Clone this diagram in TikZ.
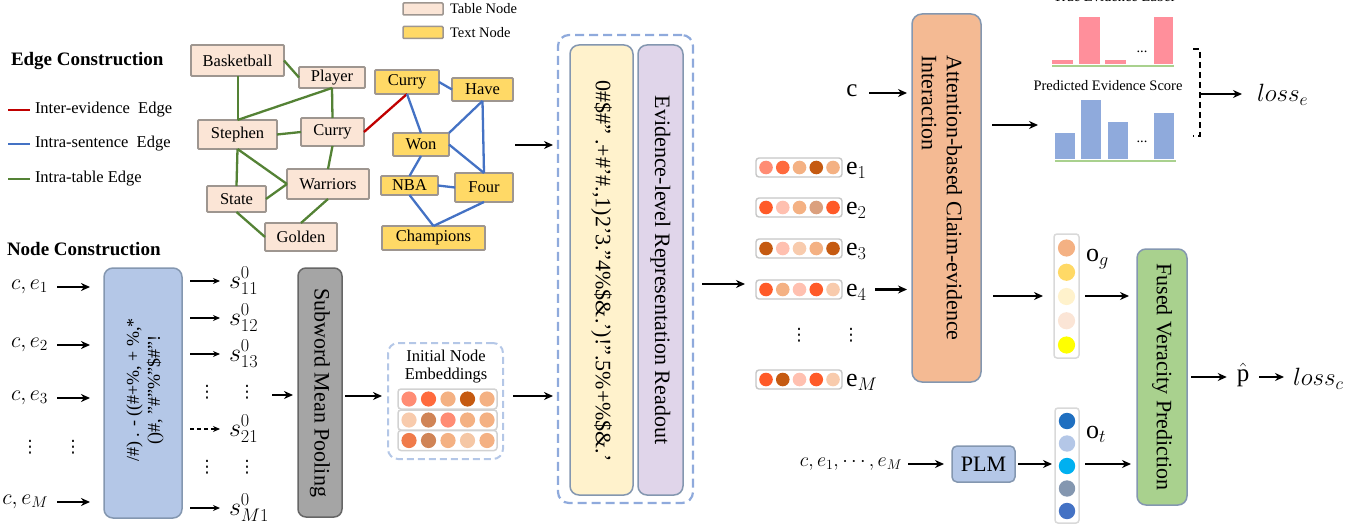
\RequirePackage{fix-cm}
\documentclass[tikz,border=0pt]{standalone}
\usepackage{fontspec}
\setmainfont{Liberation Serif}
\newfontfamily\dvsfont{DejaVu Sans}
\usetikzlibrary{arrows.meta}
\definecolor{tabfill}{HTML}{FBE5D6}
\definecolor{txtfill}{HTML}{FFD966}
\definecolor{nodeborder}{HTML}{9E9690}
\definecolor{redE}{HTML}{C00000}
\definecolor{blueE}{HTML}{4472C4}
\definecolor{greenE}{HTML}{548235}
\definecolor{boxborder}{HTML}{8497B0}
\definecolor{lblue}{HTML}{B4C7E7}
\definecolor{dblue}{HTML}{8FAADC}
\definecolor{lyellow}{HTML}{FFF2CC}
\definecolor{lpurple}{HTML}{E0D5EA}
\definecolor{peach}{HTML}{F4BA93}
\definecolor{lgreen}{HTML}{A9D18E}
\definecolor{pbar}{HTML}{FF8F9B}
\definecolor{gbox}{HTML}{A5A5A5}
\definecolor{cSal}{HTML}{FF8C74}
\definecolor{cOr}{HTML}{FF6A3D}
\definecolor{cTan}{HTML}{F4B183}
\definecolor{cBr}{HTML}{C55A11}
\definecolor{cLp}{HTML}{F8CBAD}
\definecolor{cMb}{HTML}{D08456}
\definecolor{cO2}{HTML}{F07B4A}
\definecolor{cPk}{HTML}{FFC0B0}
\definecolor{cDt}{HTML}{DBA07E}
\definecolor{cRd}{HTML}{FF5A28}
\definecolor{cLt}{HTML}{F5C7A5}
\definecolor{cGold}{HTML}{FFD966}
\definecolor{cCream}{HTML}{FFF2CC}
\definecolor{cPeach}{HTML}{FBE5D6}
\definecolor{cYel}{HTML}{FFFF00}
\definecolor{cB1}{HTML}{1F6FC0}
\definecolor{cB2}{HTML}{B4C7E7}
\definecolor{cB3}{HTML}{00B0F0}
\definecolor{cB4}{HTML}{8497B0}
\definecolor{cB5}{HTML}{4472C4}
\newcommand{\FBig}{\fontsize{22}{25}\selectfont}
\newcommand{\FNode}{\fontsize{16.5}{18}\selectfont}
\newcommand{\FHead}{\fontsize{19}{21}\selectfont\bfseries}
\newcommand{\FSmall}{\fontsize{14.5}{16}\selectfont}
\newcommand{\FMathE}{\fontsize{26}{28}\selectfont}
\newcommand{\FMathC}{\fontsize{22}{24}\selectfont}
\newcommand{\FMathS}{\fontsize{20}{22}\selectfont}
\newcommand{\FMathL}{\fontsize{25}{27}\selectfont}
\newcommand{\FGarb}{\fontsize{18}{21}\selectfont}
\newcommand{\vdts}{{\dvsfont\fontsize{17}{19}\selectfont ⋮}}
\begin{document}
\begin{tikzpicture}[x=1pt,y=-1pt,
  every node/.style={inner sep=0pt, outer sep=0pt},
  tabn/.style={draw=nodeborder, line width=1.8pt, fill=tabfill, font=\FNode, rounded corners=1pt},
  txtn/.style={draw=nodeborder, line width=1.8pt, fill=txtfill, font=\FNode, rounded corners=1pt},
  gedge/.style={draw=greenE, line width=2.3pt},
  bedge/.style={draw=blueE, line width=2.3pt},
  redge/.style={draw=redE, line width=2.3pt},
  arr/.style={-{Stealth[length=9pt,width=8pt]}, line width=2.2pt},
  thinarr/.style={-{Stealth[length=7pt,width=6pt]}, line width=1.4pt},
  bigbox/.style={draw=boxborder, line width=1.5pt, rounded corners=9pt},
  vecbar/.style={draw=gray!45, line width=1.4pt, rounded corners=3pt, fill=white},
  vd/.style={inner sep=0pt},
]
\useasboundingbox (0,0) rectangle (1361,527);

% ---------- top legend ----------
\node[tabn, line width=1.5pt, minimum width=40pt, minimum height=12pt] (legtab) at (423,9) {};
\node[anchor=west, font=\FSmall] (legtabt) at (450,9) {Table Node};
\node[txtn, line width=1.5pt, minimum width=40pt, minimum height=12pt] (legtxt) at (423,32.5) {};
\node[anchor=west, font=\FSmall] (legtxtt) at (450,32.5) {Text Node};

% ---------- edge legend ----------
\node[anchor=west, font=\FHead] (ec) at (11,61) {Edge Construction};
\node[anchor=west, font=\FNode] (lint) at (35,110) {Inter-evidence\ \ Edge};
\node[anchor=west, font=\FNode] (lsen) at (35,144) {Intra-sentence\ \ Edge};
\node[anchor=west, font=\FNode] (ltab) at (35,179) {Intra-table Edge};
\draw[redge] ([xshift=-27pt]lint.west) -- ([xshift=-5pt]lint.west);
\draw[bedge] ([xshift=-27pt]lsen.west) -- ([xshift=-5pt]lsen.west);
\draw[gedge] ([xshift=-27pt]ltab.west) -- ([xshift=-5pt]ltab.west);

% ---------- graph ----------
\node[tabn, minimum width=93pt, minimum height=31pt] (bask) at (237.5,60.5) {Basketball};
\node[tabn, minimum width=66pt, minimum height=21pt] (player) at (332,77.5) {Player};
\node[tabn, minimum width=79pt, minimum height=29pt] (steph) at (237.5,134.5) {Stephen};
\node[tabn, minimum width=63pt, minimum height=28pt] (curryA) at (332.5,132) {Curry};
\node[tabn, minimum width=82pt, minimum height=30pt] (warr) at (328,184) {Warriors};
\node[tabn, minimum width=59pt, minimum height=26pt] (state) at (236.5,199) {State};
\node[tabn, minimum width=72pt, minimum height=28pt] (golden) at (301,237) {Golden};
\node[txtn, minimum width=64pt, minimum height=24pt] (curryB) at (407,82) {Curry};
\node[txtn, minimum width=61pt, minimum height=23pt] (have) at (482.5,89.5) {Have};
\node[txtn, minimum width=56pt, minimum height=23pt] (won) at (421,144.5) {Won};
\node[txtn, minimum width=57pt, minimum height=19pt] (nba) at (409.5,185.5) {NBA};
\node[txtn, minimum width=58pt, minimum height=29pt] (four) at (484,187.5) {Four};
\node[txtn, minimum width=103pt, minimum height=24pt] (champ) at (433.5,238) {Champions};

\draw[gedge] (bask.east) -- (player.west);
\draw[gedge] ([xshift=0.3pt]bask.south) -- ([xshift=0.3pt]steph.north);
\draw[gedge] (player.south) -- (steph.north);
\draw[gedge] (player.south) -- (curryA.north);
\draw[gedge] (steph.east) -- (curryA.west);
\draw[gedge] (steph.south) -- (state.north);
\draw[gedge] (steph.south) -- (warr.west);
\draw[gedge] (state.east) -- (warr.west);
\draw[gedge] (state.south) -- (golden.west);
\draw[gedge] (warr.south) -- (golden.north);
\draw[gedge] (curryA.south) -- (warr.north);
\draw[redge] (curryA.east) -- (curryB.south);
\draw[bedge] (curryB.east) -- (have.west);
\draw[bedge] (curryB.south) -- (won.north);
\draw[bedge] (have.south) -- (won.north east);
\draw[bedge] (have.south) -- (four.north);
\draw[bedge] (won.east) -- (four.north);
\draw[bedge] (won.south) -- (nba.north);
\draw[bedge] (nba.east) -- (four.west);
\draw[bedge] (nba.south) -- (champ.north);
\draw[bedge] (four.south) -- (champ.north);

% ---------- node construction ----------
\node[anchor=west, font=\FHead] (nc) at (7,249) {Node Construction};

\node[draw=boxborder, line width=1.5pt, fill=lblue, rounded corners=9pt, minimum width=78pt, minimum height=250pt] (blue) at (143,393) {};
\node[font=\FGarb, rotate=90, align=center] (bluet) at (145,390) {/\#) . - ((\#+\%, + \%,*\\()\#, "\#"\%"\$\#"!};

\node[font=\FMathC, anchor=east] (ce1) at (48,287) {$c, e_1$};
\node[font=\FMathC, anchor=east] (ce2) at (48,345) {$c, e_2$};
\node[font=\FMathC, anchor=east] (ce3) at (48,398) {$c, e_3$};
\node[vd] (cdA) at (30,447) {\vdts};
\node[vd] (cdB) at (73,447) {\vdts};
\node[font=\FMathC, anchor=east] (ceM) at (48,502) {$c, e_M$};
\foreach \n in {ce1,ce2,ce3,ceM}
  \draw[arr, shorten >=14pt] ([xshift=9pt]\n.east) -- (\n.east -| blue.west);

\node[font=\FMathE, anchor=west] (s11) at (229,281) {$s^0_{11}$};
\node[font=\FMathE, anchor=west] (s12) at (229,318) {$s^0_{12}$};
\node[font=\FMathE, anchor=west] (s13) at (229,354) {$s^0_{13}$};
\node[vd] (sdA) at (207,392) {\vdts};
\node[vd] (sdB) at (247,392) {\vdts};
\node[font=\FMathE, anchor=west] (s21) at (229,429) {$s^0_{21}$};
\node[vd] (sdC) at (207,467) {\vdts};
\node[vd] (sdD) at (247,467) {\vdts};
\node[font=\FMathE, anchor=west] (sM1) at (229,508) {$s^0_{M1}$};
\foreach \n in {s11,s12,s13,sM1}
  \draw[thinarr] ([xshift=8pt]blue.east |- \n.west) -- ([xshift=-9pt]\n.west);
\draw[thinarr, dash pattern=on 4pt off 3pt] ([xshift=8pt]blue.east |- s21.west) -- ([xshift=-9pt]s21.west);

\node[draw=gray!80!black, line width=1.5pt, fill=gbox, rounded corners=8pt, minimum width=44pt, minimum height=249pt] (sub) at (320,392.5) {};
\node[font=\FBig, rotate=-90] (subt) at (320,392.5) {Subword Mean Pooling};
\coordinate (slist) at (272,395);
\draw[arr, shorten >=5pt] (slist) -- (sub.west |- slist);

% initial node embeddings
\node[draw=lblue, line width=2pt, dash pattern=on 7pt off 4pt, rounded corners=10pt, minimum width=115pt, minimum height=116pt] (init) at (445.5,401) {};
\node[font=\FNode, align=center] (initt) at (446,367) {Initial Node\\Embeddings};
\node[draw=gray!35, line width=1.5pt, rounded corners=3pt, minimum width=99pt, minimum height=20pt] (r1) at (447.5,399) {};
\node[draw=gray!35, line width=1.5pt, rounded corners=3pt, minimum width=99pt, minimum height=20pt] (r2) at (447.5,420) {};
\node[draw=gray!35, line width=1.5pt, rounded corners=3pt, minimum width=99pt, minimum height=20pt] (r3) at (447.5,440.5) {};
\foreach \c [count=\i] in {cSal,cOr,cTan,cBr,cTan}
  \fill[\c] ({409+19.5*(\i-1)},399) circle[radius=7.6pt];
\foreach \c [count=\i] in {cLp,cMb,cSal,cTan,cTan}
  \fill[\c] ({409+19.5*(\i-1)},420) circle[radius=7.6pt];
\foreach \c [count=\i] in {cO2,cMb,cTan,cLt,cTan}
  \fill[\c] ({409+19.5*(\i-1)},440.5) circle[radius=7.6pt];
\coordinate (a1) at (0,396);
\draw[arr, shorten >=6pt] ([xshift=3pt]sub.east |- a1) -- (init.west |- a1);

% big dashed box
\node[draw=dblue, line width=2.2pt, dash pattern=on 9pt off 5pt, rounded corners=11pt, minimum width=135pt, minimum height=468pt] (big) at (625.5,269) {};
\node[bigbox, fill=lyellow, minimum width=63pt, minimum height=450pt] (ybox) at (601.5,270) {};
\node[bigbox, fill=lpurple, minimum width=45pt, minimum height=450pt] (pbox) at (660.5,270) {};
\node[font=\FBig, rotate=-90] (yboxt) at (601.5,271) {0\#\$\#" .+\#'\#.,1)2'3."4\%\$\&.')!".5\%+\%\$\&.'};
\node[font=\FBig, rotate=-90] (pboxt) at (660.5,270) {Evidence-level Representation Readout};
\coordinate (gout) at (515,145);
\draw[arr, shorten >=5pt] (gout) -- (big.west |- gout);
\draw[arr, shorten >=5pt] ([xshift=10pt]init.east |- a1) -- (big.west |- a1);

% evidence vectors
\coordinate (elin) at (745,284);
\draw[arr] ([xshift=9pt]big.east |- elin) -- (elin);
\foreach \nm/\yy in {eb1/167.5,eb2/207.5,eb3/248.5,eb4/289.5,ebM/379.5}
  \node[vecbar, minimum width=86pt, minimum height=19pt] (\nm) at (799,\yy) {};
\foreach \c [count=\i] in {cSal,cOr,cTan,cBr,cTan}
  \fill[\c] ({766+16.75*(\i-1)},167.5) circle[radius=6.8pt];
\foreach \c [count=\i] in {cRd,cPk,cTan,cDt,cRd}
  \fill[\c] ({766+16.75*(\i-1)},207.5) circle[radius=6.8pt];
\foreach \c [count=\i] in {cBr,cPk,cLp,cTan,cBr}
  \fill[\c] ({766+16.75*(\i-1)},248.5) circle[radius=6.8pt];
\foreach \c [count=\i] in {cRd,cTan,cPk,cRd,cLp}
  \fill[\c] ({766+16.75*(\i-1)},289.5) circle[radius=6.8pt];
\foreach \c [count=\i] in {cRd,cBr,cPk,cRd,cLp}
  \fill[\c] ({766+16.75*(\i-1)},379.5) circle[radius=6.8pt];
\node[font=\FMathE, anchor=west] (el1) at (846,170) {$\mathrm{e}_1$};
\node[font=\FMathE, anchor=west] (el2) at (846,210) {$\mathrm{e}_2$};
\node[font=\FMathE, anchor=west] (el3) at (846,251) {$\mathrm{e}_3$};
\node[font=\FMathE, anchor=west] (el4) at (846,292) {$\mathrm{e}_4$};
\node[font=\FMathE, anchor=west] (elM) at (846,382) {$\mathrm{e}_M$};
\node[vd] (edA) at (799,335) {\vdts};
\node[vd] (edB) at (851,335) {\vdts};

% attention box
\node[draw=boxborder, line width=1.5pt, fill=peach, rounded corners=10pt, minimum width=69pt, minimum height=368pt] (att) at (946.5,198) {};
\node[font=\FBig, rotate=-90, align=left] (attt) at (942,198) {Attention-based Claim-evidence\\Interaction};
\node[font=\FMathL] (ctop) at (852,91) {$\mathrm{c}$};
\draw[arr, shorten >=5pt] ([xshift=17pt]ctop.center |- 0,93) -- (att.west |- 0,93);
\draw[arr, shorten >=5pt] ([xshift=9pt]el4.east |- eb4) -- (att.west |- eb4);

% bar charts
\node[font=\FSmall, anchor=base] (truet) at (1114,1.5) {True Evidence Label};
\fill[pbar] (1052,60) rectangle (1073,64);
\fill[pbar] (1079,17) rectangle (1100,64);
\fill[pbar] (1105,60) rectangle (1126,64);
\fill[pbar] (1154,17) rectangle (1173,64);
\node[font=\FSmall] (tdots) at (1142,52) {...};
\draw[lgreen, line width=2.5pt] (1052,66) -- (1174,66);
\node[font=\FSmall] (predt) at (1108,86) {Predicted Evidence Score};
\fill[dblue] (1055,133) rectangle (1075,159);
\fill[dblue] (1081,100) rectangle (1101,159);
\fill[dblue] (1108,122) rectangle (1128,159);
\fill[dblue] (1154,113) rectangle (1174,159);
\node[font=\FSmall] (pdots) at (1142,142) {...};
\draw[lgreen, line width=2.5pt] (1055,161) -- (1176,161);
\coordinate (predin) at (1038,125);
\draw[arr] ([xshift=11pt]att.east |- predin) -- (predin);
\draw[line width=1.6pt, dash pattern=on 6pt off 4pt] (1193,49) -- (1200,49) -- (1200,136) -- (1193,136);
\coordinate (brk) at (1200,94);
\node[font=\FMathL, anchor=west] (losse) at (1257,95) {$loss_e$};
\draw[arr, shorten >=15pt] (brk) -- (brk -| losse.west);

% o_g vector
\node[draw=gray!30, line width=1.5pt, rounded corners=3pt, minimum width=25pt, minimum height=124pt] (og) at (1066.5,296) {};
\foreach \c [count=\i] in {cTan,cGold,cCream,cPeach,cYel}
  \fill[\c] (1066.5,{248+24.25*(\i-1)}) circle[radius=8.6pt];
\node[font=\FMathE, anchor=west] (ogl) at (1086,259) {$\mathrm{o}_g$};
\draw[arr] ([xshift=12pt]att.east |- og) -- ([xshift=-11pt]og.west);

% fused box
\node[draw=boxborder, line width=1.5pt, fill=lgreen, rounded corners=9pt, minimum width=50pt, minimum height=256pt] (fused) at (1162,377) {};
\node[font=\FBig, rotate=-90] (fusedt) at (1162,377) {Fused Veracity Prediction};
\draw[arr, shorten >=8pt] ([xshift=6pt]og.east) -- (og.east -| fused.west);

% PLM and o_t
\node[font=\FMathS, anchor=east] (cem) at (902,464) {$c, e_1, \cdots, e_M$};
\node[draw=boxborder, line width=1.5pt, fill=lblue, rounded corners=5pt, minimum width=63pt, minimum height=36pt, font=\FBig] (plm) at (983.5,464) {PLM};
\node[draw=gray!30, line width=1.5pt, rounded corners=3pt, minimum width=24pt, minimum height=115pt] (ot) at (1067,465.5) {};
\foreach \c [count=\i] in {cB1,cB2,cB3,cB4,cB5}
  \fill[\c] (1067,{421+22.5*(\i-1)}) circle[radius=8.2pt];
\node[font=\FMathE, anchor=west] (otl) at (1086,434) {$\mathrm{o}_t$};
\draw[arr, shorten >=8pt] ([xshift=6pt]cem.east) -- (cem.east -| plm.west);
\draw[arr, shorten >=3pt] ([xshift=3pt]plm.east) -- (plm.east -| ot.west);
\draw[arr, shorten >=6pt] ([xshift=6pt]ot.east |- plm) -- (plm -| fused.west);

% outputs
\node[font=\FMathL] (phat) at (1243,375) {$\hat{\mathrm{p}}$};
\node[font=\FMathL, anchor=west] (lossc) at (1293,379) {$loss_c$};
\draw[arr] ([xshift=4pt]fused.east |- 0,377) -- ([xshift=-10pt]phat.west |- 0,377);
\draw[arr] ([xshift=10pt]phat.east |- 0,377) -- ([xshift=-9pt]lossc.west |- 0,377);
\end{tikzpicture}
\end{document}
